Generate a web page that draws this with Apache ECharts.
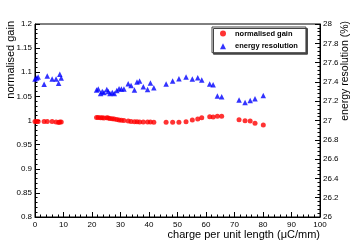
<!DOCTYPE html>
<html>
<head>
<meta charset="utf-8">
<script src="https://cdn.jsdelivr.net/npm/echarts@6/dist/echarts.min.js"></script>
<style>html,body{margin:0;padding:0;background:#fff;}#c{width:355px;height:242px;}</style>
</head>
<body>
<div id="c"></div>
<script>
var charge = [0, 0.6, 1.1, 3.2, 4.3, 6.0, 7.4, 8.3, 8.7, 9.2,
  21.6, 22.2, 23.0, 23.6, 24.2, 25.2, 25.7, 26.3, 27.1, 27.8, 28.7, 29.5, 30.3, 31.2,
  32.7, 33.7, 34.9, 35.8, 36.7, 38.0, 39.5, 40.5, 41.7,
  46.0, 48.3, 50.5, 53.0, 55.2, 57.1, 58.5, 61.3, 62.5, 64.0, 65.5, 71.6, 73.7, 75.5, 77.2, 80.1];
var gain = [0.998, 0.998, 0.998, 0.998, 0.998, 0.998, 0.997, 0.996, 0.997, 0.997,
  1.006, 1.006, 1.0055, 1.0055, 1.005, 1.0055, 1.005, 1.004, 1.0035, 1.003, 1.002, 1.001, 1.0005, 1.000,
  0.999, 0.998, 0.9975, 0.9975, 0.997, 0.997, 0.997, 0.997, 0.9965,
  0.9963, 0.9963, 0.9963, 0.9975, 1.001, 1.003, 1.0058, 1.0079, 1.0075, 1.0087, 1.0087, 1.0018, 0.9993, 0.999, 0.9942, 0.9907];
var resolution = [27.43, 27.44, 27.45, 27.375, 27.46, 27.43, 27.43, 27.385, 27.48, 27.44,
  27.316, 27.326, 27.28, 27.30, 27.29, 27.32, 27.30, 27.28, 27.29, 27.28, 27.31, 27.33, 27.326, 27.326,
  27.38, 27.363, 27.316, 27.40, 27.41, 27.35, 27.32, 27.388, 27.339,
  27.378, 27.409, 27.433, 27.451, 27.43, 27.443, 27.42, 27.378, 27.371, 27.254, 27.247, 27.212, 27.187, 27.207, 27.225, 27.259];
var seriesNames = ['normalised gain', 'energy resolution'];
var xTitle = 'charge per unit length (\u03bcC/mm)';
var yTitleLeft = 'normalised gain';
var yTitleRight = 'energy resolution (%)';

var FONT = 'Liberation Sans';
function pairs(xs, ys){ return xs.map(function(x,i){ return [x, ys[i]]; }); }
var tickCommon = {
  axisLine: {show: true, lineStyle: {color: '#000', width: 1}},
  axisTick: {show: true, inside: true, length: 5, lineStyle: {color: '#000', width: 1}},
  minorTick: {show: true, splitNumber: 5, length: 2.5, lineStyle: {color: '#000', width: 1}},
  splitLine: {show: false},
  axisLabel: {color: '#000', fontFamily: FONT, fontSize: 8, margin: 3}
};
var chart = echarts.init(document.getElementById('c'), null, {renderer: 'canvas'});
chart.setOption({
  animation: false,
  backgroundColor: '#fff',
  grid: {left: 35, right: 35, top: 24, bottom: 25, show: true, borderColor: '#000', borderWidth: 1, backgroundColor: 'transparent'},
  xAxis: Object.assign({type: 'value', min: 0, max: 100, interval: 10}, JSON.parse(JSON.stringify(tickCommon)), {axisLabel: {color: '#000', fontFamily: FONT, fontSize: 8, margin: 4}}),
  yAxis: [
    Object.assign({type: 'value', min: 0.8, max: 1.2, interval: 0.05, position: 'left'}, JSON.parse(JSON.stringify(tickCommon))),
    Object.assign({type: 'value', min: 26, max: 28, interval: 0.2, position: 'right'}, JSON.parse(JSON.stringify(tickCommon)))
  ],
  legend: {
    orient: 'vertical', left: 212, top: 27,
    padding: [2, 8, 2, 8], itemGap: 3.7, itemWidth: 6, itemHeight: 6,
    backgroundColor: '#fff', borderColor: '#444', borderWidth: 1,
    shadowColor: '#444', shadowOffsetX: 1.5, shadowOffsetY: 1.5, shadowBlur: 0,
    textStyle: {color: '#000', fontFamily: FONT, fontSize: 7.5, fontWeight: 'bold', lineHeight: 9, padding: [0, 0, 0, 4]},
    data: [{name: seriesNames[0], icon: 'circle'}, {name: seriesNames[1], icon: 'triangle'}]
  },
  graphic: [
    {type: 'text', x: 10.5, y: 21, rotation: Math.PI / 2,
     style: {text: yTitleLeft, fill: '#000', font: '11px "Liberation Sans"', align: 'right', verticalAlign: 'middle'}},
    {type: 'text', x: 345, y: 21, rotation: Math.PI / 2,
     style: {text: yTitleRight, fill: '#000', font: '10.5px "Liberation Sans"', align: 'right', verticalAlign: 'middle'}},
    {type: 'text', x: 320, y: 235,
     style: {text: xTitle, fill: '#000', font: '11px "Liberation Sans"', align: 'right', verticalAlign: 'middle'}}
  ],
  series: [
    {name: seriesNames[0], type: 'scatter', yAxisIndex: 0, symbol: 'circle', symbolSize: 5,
     itemStyle: {color: '#ff0000'}, data: pairs(charge, gain)},
    {name: seriesNames[1], type: 'scatter', yAxisIndex: 1, symbol: 'triangle', symbolSize: 5.5,
     itemStyle: {color: '#0000ff'}, data: pairs(charge, resolution)}
  ]
});
</script>
</body>
</html>
